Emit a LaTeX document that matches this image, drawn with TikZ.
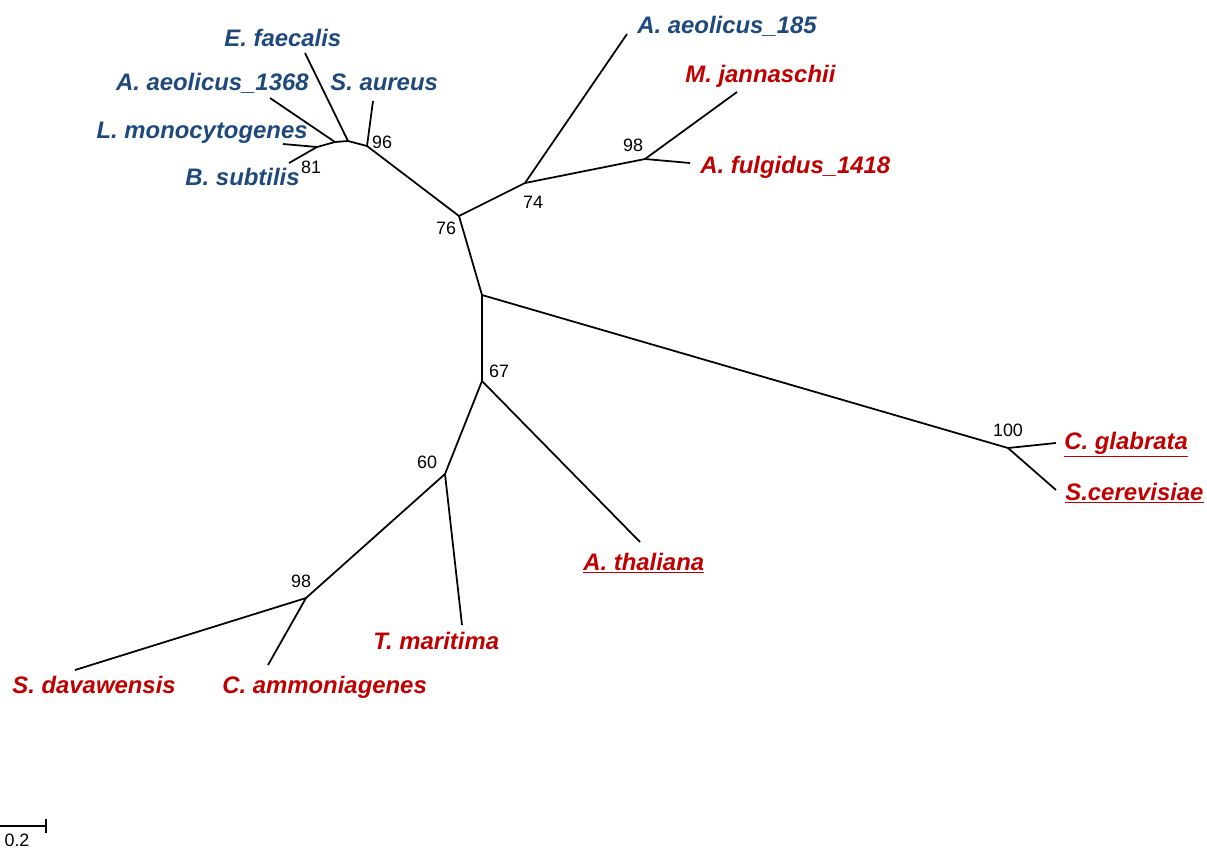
\documentclass[tikz,border=0pt]{standalone}
\usepackage{fontspec}
\setmainfont{Liberation Sans}
\usetikzlibrary{positioning}
\definecolor{bactblue}{RGB}{31,73,125}
\definecolor{otherred}{RGB}{192,0,0}
\tikzset{
  branch/.style={line width=1pt, line join=round},
  taxon/.style={font=\fontsize{13.6}{16}\selectfont\bfseries\itshape, inner sep=0pt},
  bact/.style={taxon, text=bactblue},
  other/.style={taxon, text=otherred},
  boot/.style={font=\fontsize{10.2}{12}\selectfont, inner sep=0pt, anchor=base},
}

\begin{document}
\begin{tikzpicture}[x=0.02cm, y=-0.02cm]
    \useasboundingbox (0,0) rectangle (1207,850);

    % inner nodes
    \coordinate (nStaph) at (367,146);
    \coordinate (nEnt) at (348,141);
    \coordinate (nBac) at (335,142);
    \coordinate (nBs) at (317,147);
    \coordinate (nTop) at (459,216);
    \coordinate (nAq) at (525,183);
    \coordinate (nArc) at (645,159);
    \coordinate (nCen) at (482,295);
    \coordinate (nLow) at (482,381);
    \coordinate (nYst) at (1008,448);
    \coordinate (nMid) at (445,474);
    \coordinate (nCor) at (306,598);

    % tips
    \coordinate (tEf) at (305,53);
    \coordinate (tAa1368) at (270,98);
    \coordinate (tSa) at (373,101);
    \coordinate (tLm) at (283,144);
    \coordinate (tBs) at (289,163);
    \coordinate (tAa185) at (627,34);
    \coordinate (tMj) at (737,92);
    \coordinate (tAf) at (690,163);
    \coordinate (tCg) at (1056,443);
    \coordinate (tSc) at (1056,490);
    \coordinate (tAt) at (640,542);
    \coordinate (tTm) at (462,625);
    \coordinate (tSd) at (75,670);
    \coordinate (tCa) at (268,665);

    \draw[branch] (nStaph) -- (tSa);
    \draw[branch] (nStaph) -- (nEnt) -- (nBac) -- (nBs);
    \draw[branch] (nEnt) -- (tEf);
    \draw[branch] (nBac) -- (tAa1368);
    \draw[branch] (nBs) -- (tLm);
    \draw[branch] (nBs) -- (tBs);
    \draw[branch] (nStaph) -- (nTop);
    \draw[branch] (nTop) -- (nAq);
    \draw[branch] (nAq) -- (tAa185);
    \draw[branch] (nAq) -- (nArc);
    \draw[branch] (nArc) -- (tMj);
    \draw[branch] (nArc) -- (tAf);
    \draw[branch] (nTop) -- (nCen);
    \draw[branch] (nCen) -- (nYst);
    \draw[branch] (nYst) -- (tCg);
    \draw[branch] (nYst) -- (tSc);
    \draw[branch] (nCen) -- (nLow);
    \draw[branch] (nLow) -- (tAt);
    \draw[branch] (nLow) -- (nMid);
    \draw[branch] (nMid) -- (tTm);
    \draw[branch] (nMid) -- (nCor);
    \draw[branch] (nCor) -- (tSd);
    \draw[branch] (nCor) -- (tCa);

    % taxa
    \node[bact, anchor=base west] (lEf) at (224,46) {E. faecalis};
    \node[bact, anchor=base east] (lAa1368) at (309,90) {A. aeolicus\_1368};
    \node[bact, anchor=base west] (lSa) at (330,90) {S. aureus};
    \node[bact, anchor=base east] (lLm) at (308,138) {L. monocytogenes};
    \node[bact, anchor=base east] (lBs) at (300,185) {B. subtilis};
    \node[bact, anchor=base west] (lAa185) at (637,33) {A. aeolicus\_185};
    \node[other, anchor=base west] (lMj) at (685,82) {M. jannaschii};
    \node[other, anchor=base west] (lAf) at (700,173) {A. fulgidus\_1418};
    \node[other, anchor=base west] (lCg) at (1064,449) {\underline{C. glabrata}};
    \node[other, anchor=base west] (lSc) at (1065,500) {\underline{S.cerevisiae}};
    \node[other, anchor=base west] (lAt) at (583,570) {\underline{A. thaliana}};
    \node[other, anchor=base west] (lTm) at (373,649) {T. maritima};
    \node[other, anchor=base west] (lSd) at (12,693) {S. davawensis};
    \node[other, anchor=base west] (lCa) at (222,693) {C. ammoniagenes};

    % bootstrap values
    \node[boot] (b96) at (382,148) {96};
    \node[boot] (b81) at (311,173) {81};
    \node[boot] (b76) at (446,234) {76};
    \node[boot] (b74) at (533,208) {74};
    \node[boot] (b98a) at (633,151) {98};
    \node[boot] (b67) at (499,377) {67};
    \node[boot] (b60) at (427,468) {60};
    \node[boot] (b98b) at (301,587) {98};
    \node[boot] (b100) at (1008,436) {100};

    % scale bar
    \coordinate (sb0) at (0,826);
    \coordinate (sb1) at (46,826);
    \draw[line width=0.8pt] (sb0) -- (sb1);
    \draw[line width=0.8pt] ([yshift=0.14cm]sb1) -- ([yshift=-0.14cm]sb1);
    \node[boot] (sbl) at (17,846) {0.2};
\end{tikzpicture}
\end{document}
